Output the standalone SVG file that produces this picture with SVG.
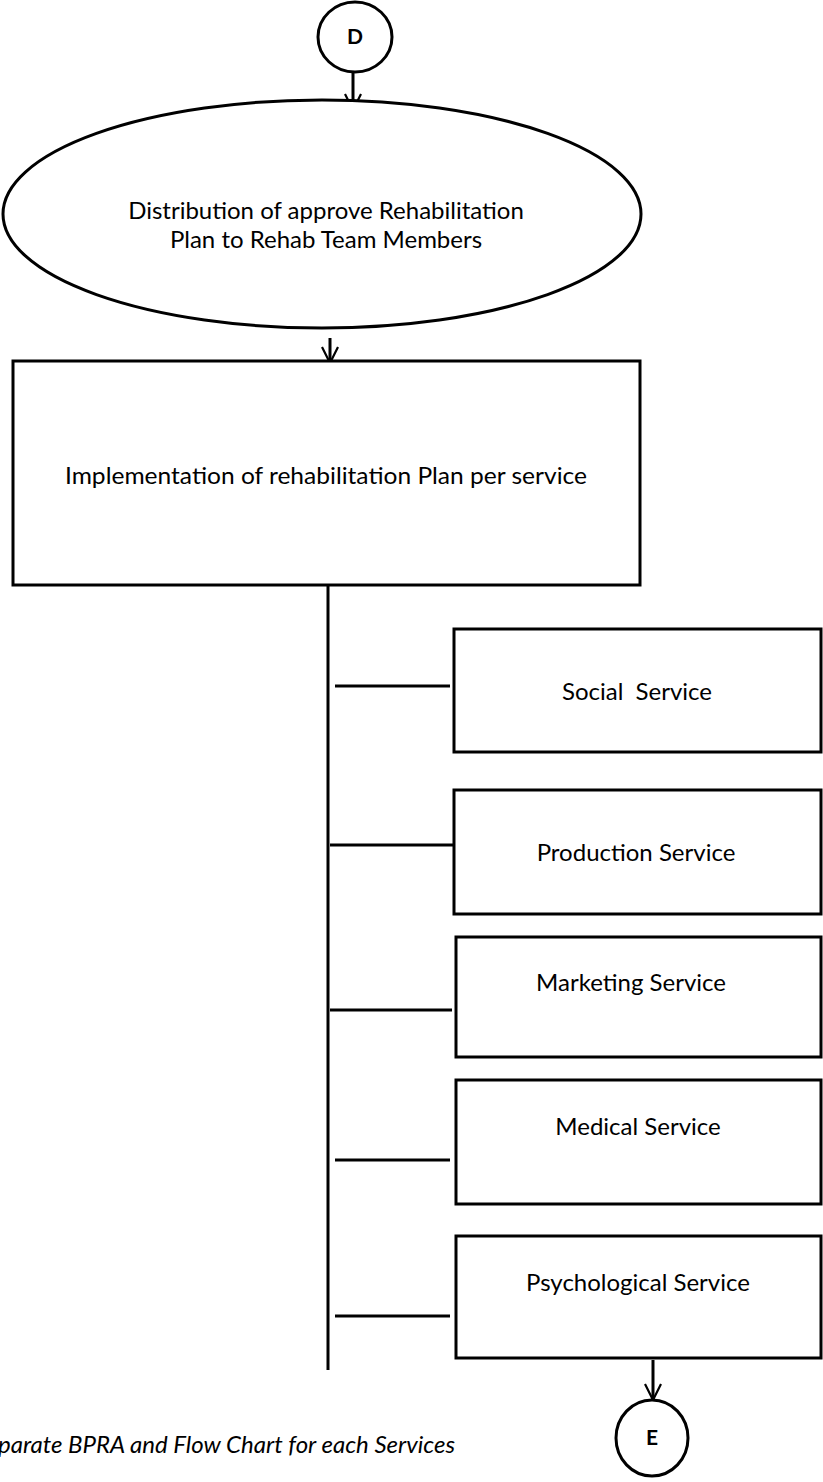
<svg xmlns="http://www.w3.org/2000/svg" width="823" height="1482" viewBox="0 0 823 1482">
<defs>
<marker id="arr" markerWidth="20" markerHeight="20" refX="18" refY="9" orient="auto" markerUnits="userSpaceOnUse" viewBox="0 0 20 18">
<path d="M2,1 L18,9 L2,17" fill="none" stroke="#000" stroke-width="2.2"/>
</marker>
</defs>
<style>
.shape{fill:#fff;stroke:#000;stroke-width:3}
.ln{fill:none;stroke:#000;stroke-width:3}
.t{font-family:Lato,"Open Sans",sans-serif;font-size:24px;fill:#000;text-anchor:middle}
.lbl{font-family:Lato,"Open Sans",sans-serif;font-size:21px;font-weight:bold;fill:#000;text-anchor:middle}
.note{font-family:Lato,"Open Sans",sans-serif;font-size:24px;font-style:italic;fill:#000}
</style>
<rect width="823" height="1482" fill="#fff"/>
<g id="connectors">
<path class="ln" d="M353,72 V110" marker-end="url(#arr)"/>
<path class="ln" d="M330,338 V363" marker-end="url(#arr)"/>
<path class="ln" d="M328,586 V1370"/>
<path class="ln" d="M335,686 H450"/>
<path class="ln" d="M330,845 H455"/>
<path class="ln" d="M330,1010 H452"/>
<path class="ln" d="M335,1160 H450"/>
<path class="ln" d="M335,1316 H450"/>
<path class="ln" d="M653,1360 V1400" marker-end="url(#arr)"/>
</g>
<g id="node-D">
<ellipse class="shape" cx="355" cy="37" rx="37" ry="35"/>
<text class="lbl" x="355" y="44">D</text>
</g>
<g id="node-distribution">
<ellipse class="shape" cx="322" cy="214" rx="319" ry="114"/>
<text class="t" x="326" y="219">Distribution of approve Rehabilitation</text>
<text class="t" x="326" y="248">Plan to Rehab Team Members</text>
</g>
<g id="node-implementation">
<rect class="shape" x="13" y="361" width="627" height="224"/>
<text class="t" x="326" y="484" textLength="522" lengthAdjust="spacingAndGlyphs">Implementation of rehabilitation Plan per service</text>
</g>
<g id="node-social">
<rect class="shape" x="454" y="629" width="367" height="123"/>
<text class="t" x="637" y="700" xml:space="preserve">Social  Service</text>
</g>
<g id="node-production">
<rect class="shape" x="454" y="790" width="367" height="124"/>
<text class="t" x="636" y="861">Production Service</text>
</g>
<g id="node-marketing">
<rect class="shape" x="456" y="937" width="365" height="120"/>
<text class="t" x="631" y="991">Marketing Service</text>
</g>
<g id="node-medical">
<rect class="shape" x="456" y="1080" width="365" height="124"/>
<text class="t" x="638" y="1135">Medical Service</text>
</g>
<g id="node-psychological">
<rect class="shape" x="456" y="1236" width="365" height="122"/>
<text class="t" x="638" y="1291">Psychological Service</text>
</g>
<g id="node-E">
<ellipse class="shape" cx="652" cy="1438" rx="36" ry="38"/>
<text class="lbl" x="652" y="1445">E</text>
</g>
<text class="note" x="-2" y="1453">parate BPRA and Flow Chart for each Services</text>
</svg>
